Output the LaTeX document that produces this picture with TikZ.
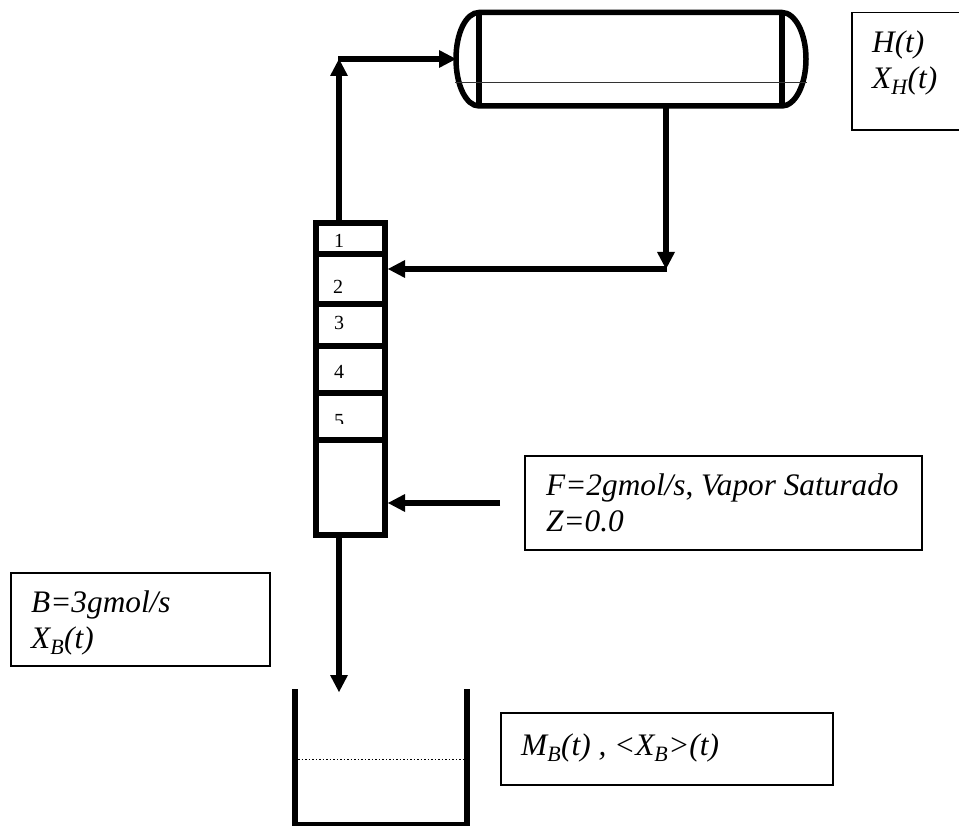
\documentclass[tikz,border=0pt]{standalone}
\usepackage{fontspec}
\setmainfont{Liberation Serif}
\usetikzlibrary{arrows.meta}
\tikzset{
 x=1pt,y=-1pt,
 heavy/.style={line width=6pt,draw=black},
 vessel/.style={line width=5.5pt,draw=black},
 flow/.style={line width=5.5pt,draw=black,-{Triangle[length=17pt,width=18pt,line width=0pt]}},
 infobox/.style={draw=black,line width=1.2pt,fill=white},
 infotext/.style={font=\fontsize{31.3}{35.5}\selectfont\itshape,align=left,anchor=north west,inner sep=0pt},
 tray/.style={font=\fontsize{20}{20}\selectfont,inner sep=0pt,anchor=base},
}
\begin{document}
\begin{tikzpicture}
\useasboundingbox (0,0) rectangle (959,826);
\fill[white] (0,0) rectangle (959,826);
% boxes
\draw[infobox] (965,12.5) -- (852,12.5) -- (852,130) -- (965,130);
\draw[infobox] (11,573) rectangle (270,666);
\draw[infobox] (525,456) rectangle (922,550);
\draw[infobox] (501,713) rectangle (833,785);
\node[infotext] (htext) at (872,31) {H(t)\\X\textsubscript{H}(t)};
\node[infotext] (btext) at (31,591) {B=3gmol/s\\X\textsubscript{B}(t)};
\node[infotext] (ftext) at (546,474) {F=2gmol/s{\upshape,} Vapor Saturado\\Z=0.0};
\node[infotext] (mtext) at (521,734) {M\textsubscript{B}(t) , <X\textsubscript{B}>(t)};
% column
\coordinate (coltop) at (339,223);
\coordinate (colbot) at (339,535);
\coordinate (colreflux) at (388,269);
\coordinate (colfeed) at (388,503);
\draw[heavy] (315.5,223) rectangle (385,535);
\foreach \yy in {254,304,346.5,393,440}{\draw[heavy] (315.5,\yy) -- (385,\yy);}
\node[tray] (t1) at (339,248) {1};
\node[tray] (t2) at (338,294) {2};
\node[tray] (t3) at (339,330) {3};
\node[tray] (t4) at (339,378) {4};
\begin{scope}
\clip (320,405) rectangle (380,423);
\node[tray] (t5) at (339,428) {5};
\end{scope}
% reflux drum
\coordinate (drumleft) at (456,59);
\coordinate (drumout) at (666,106);
\draw[vessel] (479,12.5) .. controls (466,12.5) and (456,33) .. (456,59) .. controls (456,85) and (466,106) .. (479,106) -- (782,106) .. controls (795,106) and (806,85) .. (806,59) .. controls (806,33) and (795,12.5) .. (782,12.5) -- cycle;
\draw[vessel] (479,12.5) -- (479,106);
\draw[vessel] (782,12.5) -- (782,106);
\draw[line width=1.3pt,black!80] (455,82.5) -- (807,82.5);
% accumulator
\coordinate (bucket) at (339,692);
\draw[heavy,line cap=butt] (294.7,689) -- (294.7,824.5) -- (466.7,824.5) -- (466.7,689);
\draw[line width=1.5pt,dotted] (298,759.7) -- (464,759.7);
% connectors
\coordinate (cornerA) at (339,59);
\coordinate (cornerB) at (666,269);
\coordinate (feedstart) at (500,503);
\draw[flow] (coltop) -- (cornerA);
\draw[flow] ([xshift=-1pt]cornerA) -- (drumleft);
\draw[flow] (drumout) -- (cornerB);
\draw[flow] ([xshift=1pt]cornerB) -- (colreflux);
\draw[flow] (feedstart) -- (colfeed);
\draw[flow] (colbot) -- (bucket);
\end{tikzpicture}
\end{document}
